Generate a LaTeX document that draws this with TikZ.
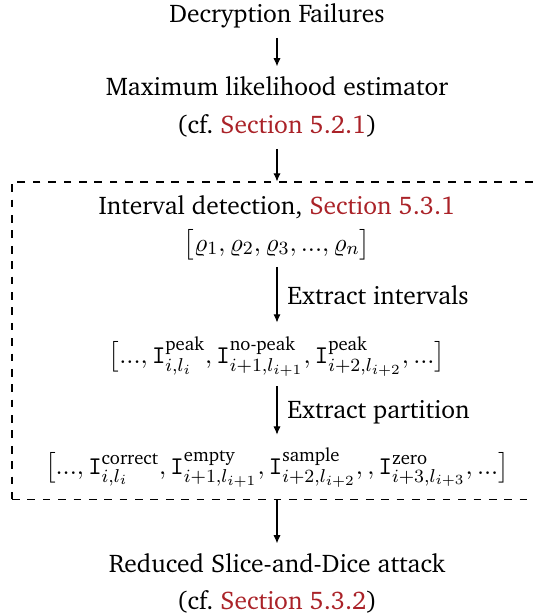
\documentclass[tikz,border=0pt,11pt]{standalone}
\usepackage[T1]{fontenc}
\usepackage{charter}
\usepackage{amsmath}
\usetikzlibrary{arrows.meta}
\definecolor{secred}{RGB}{170,34,40}
\newcommand{\secref}[1]{\textcolor{secred}{Section #1}}
\newcommand{\Iv}{\mathtt{I}}
\tikzset{
  txt/.style={anchor=base, inner xsep=2pt, inner ysep=4.4pt, text height=7.7pt, text depth=2.2pt},
  lst/.style={anchor=base, inner xsep=2pt, inner ysep=4.4pt},
  lbl/.style={anchor=base west, inner sep=0pt},
  flow/.style={-{Latex[length=3.5pt,width=3.1pt]}, line width=0.44pt},
  frame/.style={draw, dashed, dash pattern=on 3.3pt off 3.3pt, line width=0.44pt, inner sep=0pt}
}
\begin{document}
\begin{tikzpicture}[x=0.429pt,y=-0.429pt]
  \useasboundingbox (0,0) rectangle (535,616);
  \clip (0,0) rectangle (535,616);

  % pipeline stages outside the detection block
  \node[txt] (dec) at (277,22) {Decryption Failures};
  \node[txt] (mle) at (277,95) {Maximum likelihood estimator};
  \node[txt] (cf1) at (277,133) {(cf.\ \secref{5.2.1})};

  % interval detection block
  \node[frame, minimum width=235.1pt, minimum height=136pt] (box) at (286,340.5) {};
  \node[txt] (int) at (277,214) {Interval detection, \secref{5.3.1}};
  \node[txt] (rho) at (277,251) {$\bigl[\varrho_1, \varrho_2, \varrho_3, ..., \varrho_n\bigr]$};
  \node[lst, text height=12.8pt, text depth=5.3pt] (ls1) at (277,363)
    {$\bigl[..., \Iv^{\text{peak}}_{i,l_i}, \Iv^{\text{no-peak}}_{i+1,l_{i+1}}, \Iv^{\text{peak}}_{i+2,l_{i+2}}, ...\bigr]$};
  \node[lst, text height=12.3pt, text depth=5.3pt] (ls2) at (277,474)
    {$\bigl[..., \Iv^{\text{correct}}_{i,l_i}, \Iv^{\text{empty}}_{i+1,l_{i+1}}, \Iv^{\text{sample}}_{i+2,l_{i+2}}, , \Iv^{\text{zero}}_{i+3,l_{i+3}}, ...\bigr]$};

  % final stage
  \node[txt] (red) at (277,572) {Reduced Slice-and-Dice attack};
  \node[txt] (cf2) at (277,609) {(cf.\ \secref{5.3.2})};

  % step labels
  \node[lbl] (l1) at (287,304) {Extract intervals};
  \node[lbl] (l2) at (287,418) {Extract partition};

  % connectors
  \draw[flow] (dec) -- (mle);
  \draw[flow] (cf1) -- (cf1 |- box.north);
  \draw[flow] (rho) -- (ls1);
  \draw[flow] (ls1) -- (ls2);
  \draw[flow] (box.south -| red) -- (red);
\end{tikzpicture}
\end{document}
